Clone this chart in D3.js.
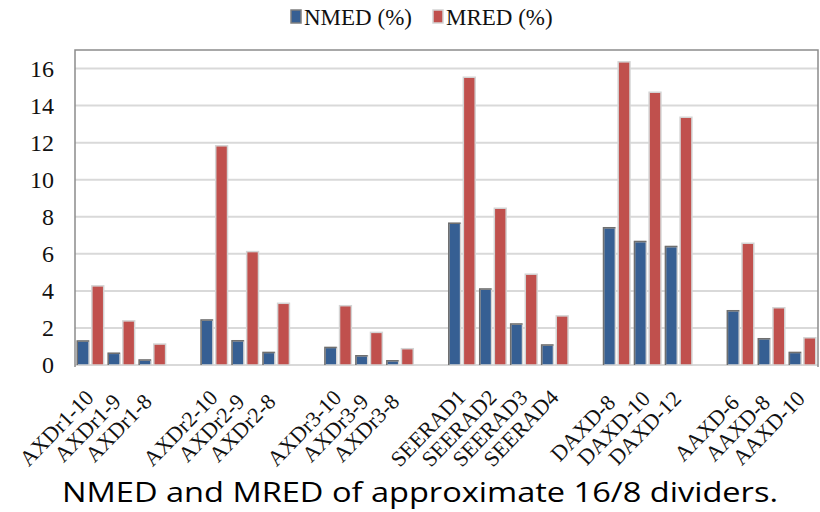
<!DOCTYPE html>
<html>
<head>
<meta charset="utf-8">
<script src="https://cdn.jsdelivr.net/npm/d3@7"></script>
<style>
  body { margin: 0; background: #fff; }
  svg { display: block; }
</style>
</head>
<body>
<svg id="chart" width="820" height="512"></svg>
<script>
// empty strings are the blank spacer slots between groups
var categories = ["AXDr1-10", "AXDr1-9", "AXDr1-8", "",
  "AXDr2-10", "AXDr2-9", "AXDr2-8", "",
  "AXDr3-10", "AXDr3-9", "AXDr3-8", "",
  "SEERAD1", "SEERAD2", "SEERAD3", "SEERAD4", "",
  "DAXD-8", "DAXD-10", "DAXD-12", "",
  "AAXD-6", "AAXD-8", "AAXD-10"];
var nmed = [1.30, 0.63, 0.27, null, 2.43, 1.31, 0.68, null, 0.95, 0.50, 0.23, null,
  7.65, 4.10, 2.21, 1.08, null, 7.41, 6.66, 6.39, null, 2.93, 1.42, 0.68];
var mred = [4.27, 2.38, 1.13, null, 11.83, 6.12, 3.33, null, 3.20, 1.76, 0.88, null,
  15.53, 8.46, 4.90, 2.65, null, 16.36, 14.72, 13.37, null, 6.57, 3.09, 1.47];
var seriesNames = ["NMED (%)", "MRED (%)"];
var seriesColors = ["#365f93", "#c0504d"];
var yTicks = [0, 2, 4, 6, 8, 10, 12, 14, 16];
var title = "NMED and MRED of approximate 16/8 dividers.";

var svg = d3.select("#chart");
var m = {left: 75, right: 818, top: 50, bottom: 365};
var serif = "'Liberation Serif', 'Times New Roman', serif";

var x = d3.scaleBand()
  .domain(d3.range(categories.length))
  .range([m.left, m.right])
  .padding(0);
var xs = d3.scaleBand()
  .domain([0, 1])
  .range([0, x.bandwidth()])
  .paddingInner(0.19)
  .paddingOuter(0.155);
var y = d3.scaleLinear().domain([0, 17]).range([m.bottom, m.top]);

// gridlines
svg.append("g").selectAll("line")
  .data(yTicks)
  .enter().append("line")
    .attr("x1", m.left).attr("x2", m.right)
    .attr("y1", function(d) { return y(d); })
    .attr("y2", function(d) { return y(d); })
    .attr("stroke", "#d9d9d9")
    .attr("stroke-width", 2);

// plot frame
svg.append("path")
  .attr("d", "M" + m.left + "," + (m.bottom + 2) + "V" + m.top + "H" + m.right + "V" + (m.bottom + 2))
  .attr("fill", "none")
  .attr("stroke", "#8c8c8c")
  .attr("stroke-width", 1.5);

// y axis
var yAxis = d3.axisLeft(y).tickValues(yTicks).tickSize(0).tickPadding(0);
var yg = svg.append("g")
  .attr("transform", "translate(54,0)")
  .call(yAxis);
yg.select(".domain").remove();
yg.selectAll("text")
  .attr("font-family", serif)
  .attr("font-size", 24)
  .attr("fill", "#111");

// bars
var rows = categories.map(function(c, i) { return {i: i, c: c, v: [nmed[i], mred[i]]}; });
var groups = svg.append("g").selectAll("g")
  .data(rows.filter(function(d) { return d.c !== ""; }))
  .enter().append("g")
    .attr("transform", function(d) { return "translate(" + x(d.i) + ",0)"; });

groups.selectAll("rect")
  .data(function(d) { return d.v.map(function(v, k) { return {k: k, v: v}; }); })
  .enter().append("rect")
    .attr("x", function(d) { return xs(d.k); })
    .attr("y", function(d) { return y(d.v); })
    .attr("width", xs.bandwidth())
    .attr("height", function(d) { return y(0) - y(d.v); })
    .attr("fill", function(d) { return seriesColors[d.k]; })
    .attr("stroke", "#d4d4d4")
    .attr("stroke-width", 1.5);

// darker top/left edge on the blue bars
groups.append("path")
  .attr("d", function(d) {
    var x0 = xs(0), x1 = xs(0) + xs.bandwidth();
    return "M" + x0 + "," + y(0) + "V" + y(d.v[0]) + "H" + x1;
  })
  .attr("fill", "none")
  .attr("stroke", "#6f6f6f")
  .attr("stroke-width", 1.5);

// x labels, centred on a point down-left of each slot
svg.append("g").selectAll("text")
  .data(rows.filter(function(d) { return d.c !== ""; }))
  .enter().append("text")
    .attr("transform", function(d) {
      return "translate(" + (x(d.i) + x.bandwidth() / 2 - 34) + ",428) rotate(-46)";
    })
    .attr("text-anchor", "middle")
    .attr("dominant-baseline", "central")
    .attr("font-family", serif)
    .attr("font-size", 22)
    .attr("fill", "#111")
    .text(function(d) { return d.c; });

// legend
var legendX = [291, 433];
var lg = svg.append("g").selectAll("g")
  .data(seriesNames)
  .enter().append("g")
    .attr("transform", function(d, i) { return "translate(" + legendX[i] + ",0)"; });
lg.append("rect")
  .attr("x", 0).attr("y", 10)
  .attr("width", 10).attr("height", 13)
  .attr("fill", function(d, i) { return seriesColors[i]; })
  .attr("stroke", function(d, i) { return i === 0 ? "#7f7f7f" : "#d4d4d4"; })
  .attr("stroke-width", 1.5);
lg.append("text")
  .attr("x", 13).attr("y", 25)
  .attr("font-family", serif)
  .attr("font-size", 23)
  .attr("fill", "#111")
  .text(function(d) { return d; });

// caption
svg.append("text")
  .attr("x", 62).attr("y", 502)
  .attr("textLength", 716)
  .attr("lengthAdjust", "spacingAndGlyphs")
  .attr("font-family", "'Open Sans', 'Liberation Sans', sans-serif")
  .attr("font-size", 27)
  .attr("fill", "#000")
  .text(title);
</script>
</body>
</html>
